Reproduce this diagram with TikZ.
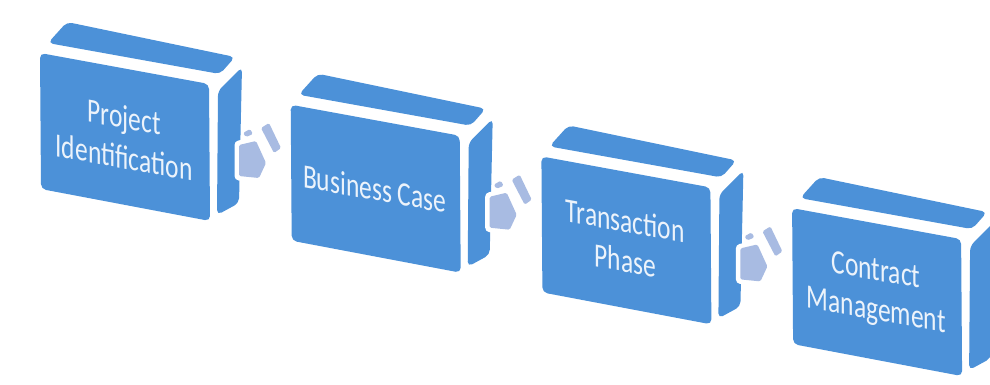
\documentclass[tikz,border=0pt]{standalone}
\usepackage{fontspec}
\setmainfont{Carlito}
\definecolor{boxblue}{RGB}{76,145,216}
\definecolor{arrowgrey}{RGB}{168,187,226}
\definecolor{labelwhite}{RGB}{236,243,251}

\tikzset{
  boxface/.style={fill=boxblue, rounded corners=5pt},
  halo/.style={draw=white, fill=white, line width=9pt, line join=round},
  arrowface/.style={fill=arrowgrey, rounded corners=1.5pt},
  boxlabel/.style={text=labelwhite, align=center, inner sep=0pt,
    font=\fontsize{34}{40}\selectfont, cm={0.75,-0.135,0,1,(0,0)}}
}

% one stage: a cuboid seen in perspective with its label on the front face
\newcommand\stagebox[3]{%
  \begin{scope}[shift={#1}]
    \fill[boxface] (8,-10) -- (180,21) -- (195,4) -- (27,-31) -- cycle;
    \fill[boxface] (178,38) -- (202,14) -- (199,150) -- (177,162) -- cycle;
    \fill[boxface] (0,0) -- (169,31) -- (170,168) -- (1,136) -- cycle;
    \node[boxlabel] (#2) at (84,84) {#3};
  \end{scope}}

% the small 3-D arrow between two stages
\newcommand\stagearrow[1]{%
  \begin{scope}[shift={#1}]
    \path[halo] (199,92) -- (216,88) -- (226,110) -- (219,125) -- (199,123) -- cycle;
    \path[halo] (221,75) -- (229,70) -- (241,95) -- (234,100) -- cycle;
    \fill[arrowface] (199,92) -- (216,88) -- (226,110) -- (219,125) -- (199,123) -- cycle;
    \fill[arrowface] (221,75) -- (229,70) -- (241,95) -- (234,100) -- cycle;
    \fill[arrowface] (203,80) -- (210,76) -- (213,81) -- (206,84) -- cycle;
  \end{scope}}

\begin{document}
\begin{tikzpicture}[x=1pt,y=-1pt]
  \useasboundingbox[fill=white] (0,0) rectangle (990,384);
  \stagebox{(40,53)}{ident}{Project\\Identification}
  \stagearrow{(40,53)}
  \stagebox{(290.7,104.7)}{business}{Business Case}
  \stagearrow{(290.7,104.7)}
  \stagebox{(541.4,156.4)}{transaction}{Transaction\\Phase}
  \stagearrow{(541.4,156.4)}
  \stagebox{(792.1,208.1)}{contract}{Contract\\Management}
\end{tikzpicture}
\end{document}
